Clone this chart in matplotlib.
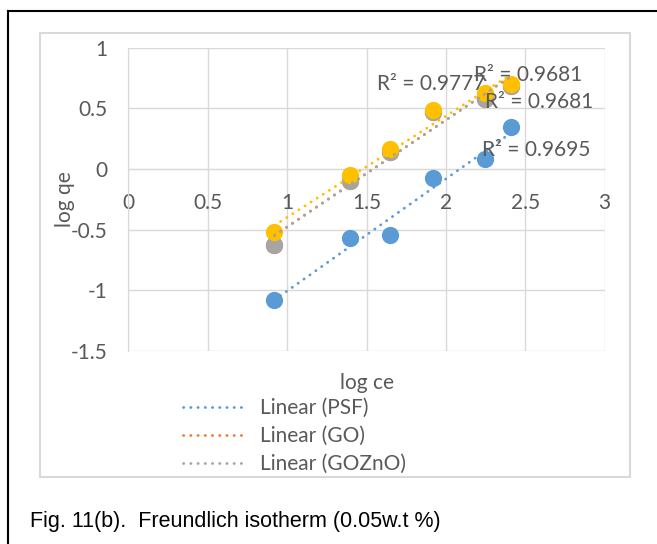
import matplotlib.pyplot as plt
import numpy as np
from matplotlib.lines import Line2D

# data
log_ce = [0.920, 1.394, 1.650, 1.918, 2.248, 2.408]
psf = [-1.077, -0.568, -0.548, -0.072, 0.078, 0.348]
go = [-0.629, -0.100, 0.136, 0.468, 0.573, 0.685]
gozno = [-0.629, -0.100, 0.136, 0.468, 0.573, 0.685]
yellow = [-0.521, -0.053, 0.161, 0.484, 0.629, 0.699]

r2_labels = ['R² = 0.9695', 'R² = 0.9681', 'R² = 0.9681', 'R² = 0.9777']
r2_pos = [(2.227, 0.156), (2.174, 0.774), (2.248, 0.551), (1.567, 0.704)]

blue = '#5B9BD5'
orange = '#ED7D31'
gray = '#A5A5A5'
gold = '#FFC000'
txt = '#595959'
grid = '#D9D9D9'

plt.rcParams['font.family'] = ['Lato', 'DejaVu Sans']
fs = 15

fig = plt.figure(figsize=(6.57, 5.44), dpi=100)

# outer frame lines and chart box
fig.add_artist(Line2D([8/657, 1], [1-11/544, 1-11/544], color='black', lw=1.5))
fig.add_artist(Line2D([8/657, 8/657], [0, 1-11/544], color='black', lw=1.5))
fig.add_artist(plt.Rectangle((40/657, 1-477/544), 590/657, 444/544, fill=False,
                             edgecolor=grid, lw=1.5))

ax = fig.add_axes([0.1954, 0.3548, 0.7250, 0.5577])
ax.set_xlim(0, 3)
ax.set_ylim(-1.5, 1)
ax.set_xticks(np.arange(0, 3.01, 0.5))
ax.set_yticks(np.arange(-1.5, 1.01, 0.5))
ax.set_xticklabels(['0', '0.5', '1', '1.5', '2', '2.5', '3'])
ax.set_yticklabels(['-1.5', '-1', '-0.5', '0', '0.5', '1'])
ax.grid(True, color=grid, lw=1)
ax.set_axisbelow(True)
for s in ['top', 'right']:
    ax.spines[s].set_visible(False)
ax.spines['left'].set_color(grid)
ax.spines['bottom'].set_color(grid)
ax.spines['bottom'].set_position(('data', 0))
ax.tick_params(length=0, colors=txt, labelsize=fs)
ax.tick_params(axis='x', pad=17)
ax.tick_params(axis='y', pad=15)

dots = (0, (0.1, 2.5))

def trend(y, color, z):
    k, b = np.polyfit(log_ce, y, 1)
    xs = np.array([min(log_ce), max(log_ce)])
    ax.plot(xs, k * xs + b, color=color, lw=2, linestyle=dots,
            dash_capstyle='round', zorder=z)

ax.scatter(log_ce, psf, s=130, color=blue, zorder=3)
ax.scatter(log_ce, go, s=130, color=orange, zorder=3)
ax.scatter(log_ce, gozno, s=130, color=gray, zorder=3)
ax.scatter(log_ce, yellow, s=130, color=gold, zorder=3)
trend(psf, blue, 4)
trend(go, orange, 4)
trend(gozno, gray, 4)
trend(yellow, gold, 4)

for lab, (x, y) in zip(r2_labels, r2_pos):
    ax.text(x, y, lab, color=txt, fontsize=fs, va='center', ha='left', zorder=5)

ax.set_xlabel('log ce', color=txt, fontsize=fs)
ax.xaxis.set_label_coords(0.5, -0.105)
ax.xaxis.label.set_va('center')
ax.set_ylabel('log qe', color=txt, fontsize=fs)
ax.yaxis.set_label_coords(-0.133, 0.5)
ax.yaxis.label.set_va('center')

handles = [Line2D([], [], color=c, lw=2, linestyle=dots, dash_capstyle='round')
           for c in [blue, orange, gray]]
leg = fig.legend(handles, ['Linear (PSF)', 'Linear (GO)', 'Linear (GOZnO)'],
                 loc='upper left', bbox_to_anchor=(183/657, 1-398/544),
                 frameon=False, fontsize=fs, handlelength=3.0, handletextpad=0.7,
                 labelspacing=0.39, borderpad=0, borderaxespad=0)
for t in leg.get_texts():
    t.set_color(txt)

fig.text(30/657, 1-522/544, 'Fig. 11(b).  Freundlich isotherm (0.05w.t %)',
         fontsize=15.5, family='Liberation Sans', va='center', ha='left', color='black')

fig.savefig('out.png', dpi=100)
